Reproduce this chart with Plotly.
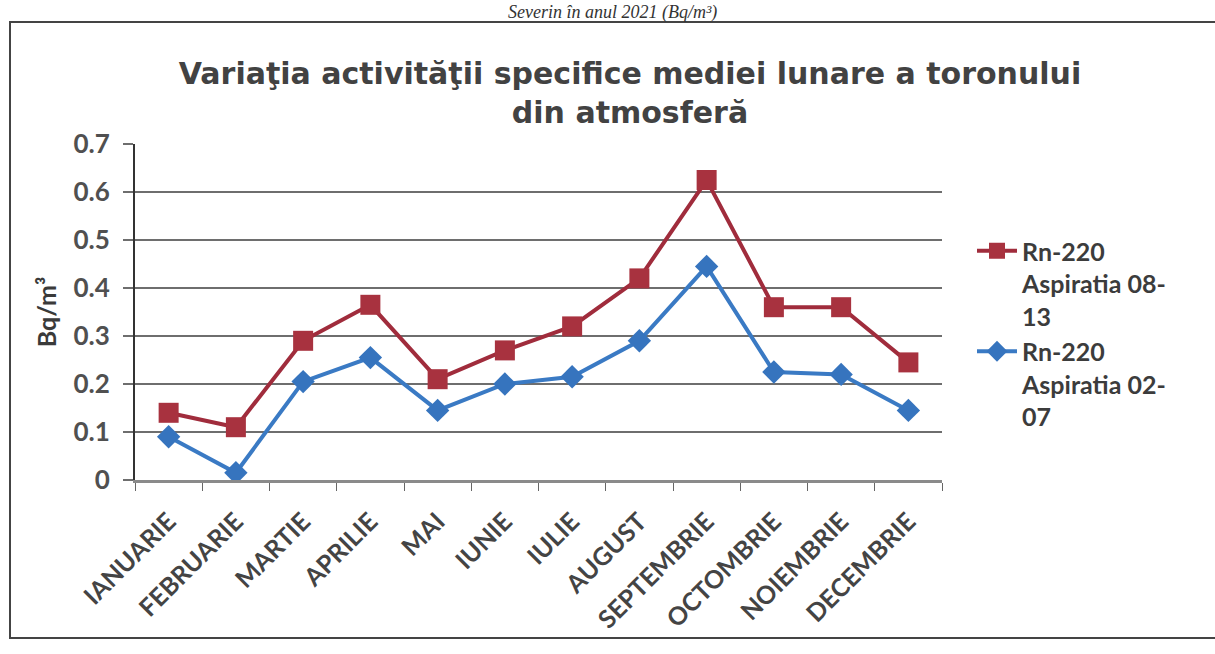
import plotly.graph_objects as go

months = ["IANUARIE", "FEBRUARIE", "MARTIE", "APRILIE", "MAI", "IUNIE", "IULIE",
          "AUGUST", "SEPTEMBRIE", "OCTOMBRIE", "NOIEMBRIE", "DECEMBRIE"]
asp_08_13 = [0.14, 0.11, 0.29, 0.365, 0.21, 0.27, 0.32, 0.42, 0.625, 0.36, 0.36, 0.245]
asp_02_07 = [0.09, 0.015, 0.205, 0.255, 0.145, 0.2, 0.215, 0.29, 0.445, 0.225, 0.22, 0.145]
y_ticks = [0, 0.1, 0.2, 0.3, 0.4, 0.5, 0.6, 0.7]
y_tick_text = ["0", "0.1", "0.2", "0.3", "0.4", "0.5", "0.6", "0.7"]

W, H = 1215, 654
L, R, T, B = 135, 273, 144, 174
pw, ph = W - L - R, H - T - B

def px(x):
    return (x - L) / pw

def py(y):
    return (H - B - y) / ph

TICKFONT = "Lato, Liberation Sans, Arial, sans-serif"

fig = go.Figure()
fig.add_trace(go.Scatter(
    x=months, y=asp_08_13, mode="lines+markers",
    name="<b>Rn-220<br>Aspiratia 08-<br>13</b>",
    line=dict(color="#a02c3c", width=4),
    marker=dict(symbol="square", size=20, color="#a8323f"),
))
fig.add_trace(go.Scatter(
    x=months, y=asp_02_07, mode="lines+markers",
    name="<b>Rn-220<br>Aspiratia 02-<br>07</b>",
    line=dict(color="#3a7ac4", width=4),
    marker=dict(symbol="diamond", size=18, color="#3674be"),
))

fig.update_layout(
    width=W, height=H,
    margin=dict(l=L, r=R, t=T, b=B),
    paper_bgcolor="white", plot_bgcolor="white",
    font=dict(family="Liberation Sans, Arial, sans-serif", color="#3a3a3a"),
    title=dict(
        text="<b>Variaţia activităţii specifice mediei lunare a toronului<br>din atmosferă</b>",
        x=px(630), xanchor="center", xref="paper", y=1 - 84 / H, yanchor="middle",
        font=dict(size=30, color="#424242", family="DejaVu Sans, Liberation Sans, sans-serif"),
    ),
    showlegend=True,
    legend=dict(
        x=px(972), y=py(228), xanchor="left", yanchor="top", valign="top",
        font=dict(size=25, color="#3c3c3c", family=TICKFONT),
        bgcolor="rgba(0,0,0,0)", tracegroupgap=22, itemwidth=40,
    ),
    xaxis=dict(
        type="category", tickson="boundaries", ticks="outside", ticklen=8,
        tickcolor="#666", showline=True, linecolor="#8a8a8a", linewidth=3,
        showgrid=False, tickangle=-45, ticklabelstandoff=14,
        tickfont=dict(size=25, color="#444", family=TICKFONT),
        range=[-0.5, 11.5],
    ),
    yaxis=dict(
        range=[0, 0.7], tickvals=y_ticks, ticktext=["<b>%s</b>" % t for t in y_tick_text],
        showgrid=True, gridcolor="#6e6e6e", gridwidth=2,
        showline=True, linecolor="#333", linewidth=2, ticks="outside", ticklen=10,
        tickcolor="#6e6e6e", tickwidth=2, zeroline=False, ticklabelstandoff=8,
        tickfont=dict(size=26, color="#505050", family=TICKFONT),
        title=dict(text="<b>Bq/m³</b>", font=dict(size=25, color="#3a3a3a", family=TICKFONT),
                   standoff=10),
    ),
)
fig.update_xaxes(ticktext=["<b>%s</b>" % m for m in months], tickvals=months)

# outer frame of the scanned chart
fig.add_shape(type="rect", xref="paper", yref="paper",
              x0=px(10), x1=px(1240), y0=py(638), y1=py(22),
              line=dict(color="#444", width=2))

# caption at the very top of the scan
fig.add_annotation(text="<i>Severin în anul 2021 (Bq/m³)</i>", xref="paper", yref="paper",
                   x=px(612), y=py(24), xanchor="center", yanchor="bottom",
                   showarrow=False, borderpad=0,
                   font=dict(family="Liberation Serif, Times New Roman, serif", size=18,
                             color="#333"))

fig.write_html("out.html", config={"displayModeBar": False},
               post_script="document.body.style.margin='0';")
